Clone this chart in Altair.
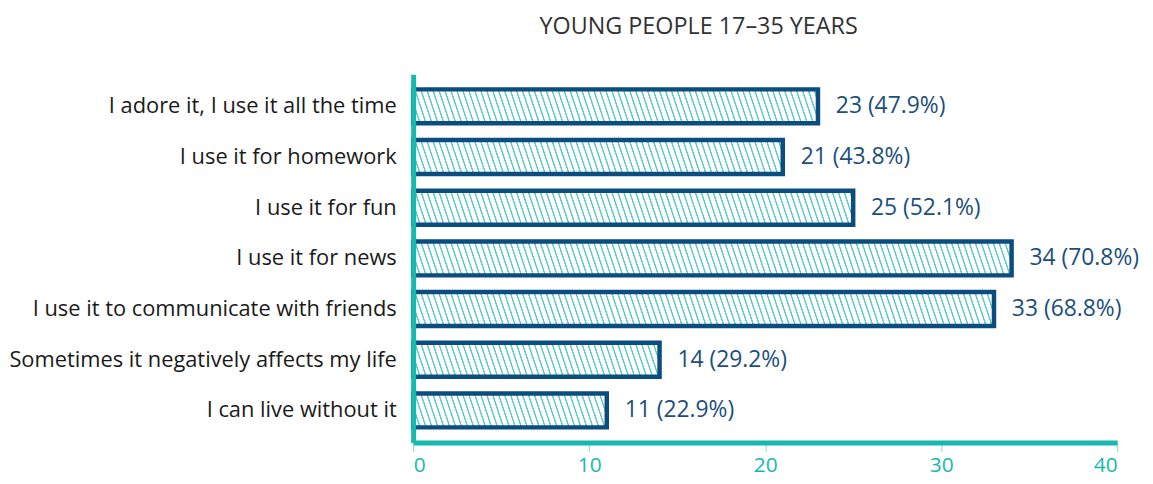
import altair as alt
import pandas as pd

categories = [
    "I adore it, I use it all the time",
    "I use it for homework",
    "I use it for fun",
    "I use it for news",
    "I use it to communicate with friends",
    "Sometimes it negatively affects my life",
    "I can live without it",
]
counts = [23, 21, 25, 34, 33, 14, 11]
percents = [47.9, 43.8, 52.1, 70.8, 68.8, 29.2, 22.9]
x_ticks = [0, 10, 20, 30, 40]

df = pd.DataFrame({
    "cat": categories,
    "count": counts,
    "label": [f"{c} ({p:.1f}%)" for c, p in zip(counts, percents)],
})

W, H = 709, 371
P_IN, P_OUT = 0.33, 0.30
TEAL = "#17b8b0"
HATCH = "#5ccac6"
BAR_STROKE = "#0c4d80"
FONT = "Open Sans"

px_per_unit = W / 40.0
step = H / (len(categories) - P_IN + 2 * P_OUT)
band_h = step * (1 - P_IN)


def hatch(value, spacing=6.0, frac=0.25):
    w = value * px_per_unit
    h = band_h
    gy = -h / (3.0 * w)
    L = 0.5 * (1 + abs(gy)) / (1 + gy * gy)
    n = (1 + abs(gy)) * w / spacing
    stops = []
    k = 0
    eps = 0.1
    while k / n <= 1.0:
        for off, col in [(k, "#ffffff"), (k + eps, HATCH), (k + frac, HATCH), (k + frac + eps, "#ffffff")]:
            o = off / n
            if o <= 1.0:
                stops.append({"offset": o, "color": col})
        k += 1
    return {
        "gradient": "linear",
        "x1": 0.5 - L, "y1": 0.5 - L * gy,
        "x2": 0.5 + L, "y2": 0.5 + L * gy,
        "stops": stops,
    }


x_enc = alt.X("count:Q", scale=alt.Scale(domain=[0, 40], nice=False),
              axis=alt.Axis(values=x_ticks, title=None, grid=False, format="d",
                            domainColor=TEAL, domainWidth=5, tickColor="#8fd6d2",
                            tickWidth=1, tickSize=9, labelColor=TEAL, labelFontSize=21,
                            labelFont=FONT, labelPadding=3, zindex=1))
y_enc = alt.Y("cat:N", sort=categories,
              scale=alt.Scale(paddingInner=P_IN, paddingOuter=P_OUT),
              axis=alt.Axis(title=None, ticks=False, domainColor=TEAL, domainWidth=5,
                            labelColor="#1a1a1a", labelFontSize=22, labelFont=FONT,
                            labelPadding=17, labelLimit=500, zindex=1))

base = alt.Chart(df)
layers = []
for c, v in zip(categories, counts):
    layers.append(
        base.transform_filter(alt.datum.cat == c)
        .mark_bar(fill=hatch(v), stroke=BAR_STROKE, strokeWidth=4.5)
        .encode(x=x_enc, y=y_enc)
    )

text = base.mark_text(align="left", baseline="middle", dx=18, fontSize=23,
                      font=FONT, color="#1b4f7c").encode(
    x=alt.X("count:Q"), y=alt.Y("cat:N", sort=categories), text="label:N")

chart = alt.layer(*layers, text).properties(
    width=W, height=H,
    padding={"left": 0, "top": 5, "right": 5, "bottom": 0},
    title=alt.TitleParams("YOUNG PEOPLE 17–35 YEARS", font=FONT, fontSize=23.5,
                          fontWeight="normal", color="#333333", anchor="middle",
                          frame="group", dx=-67, offset=36),
).configure_view(stroke=None)

chart.save("out.html", embed_options={"renderer": "svg", "actions": False})
